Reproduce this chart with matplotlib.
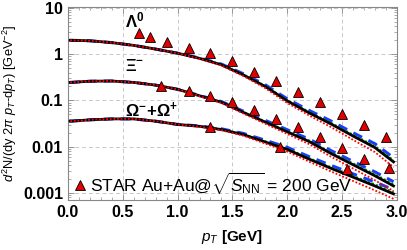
import numpy as np
import matplotlib
matplotlib.use("Agg")
import matplotlib.pyplot as plt
from matplotlib.ticker import FixedLocator, FixedFormatter, MultipleLocator, LogLocator, NullFormatter

plt.rcParams['font.family'] = ['Liberation Sans', 'DejaVu Sans']
plt.rcParams['mathtext.fontset'] = 'custom'
plt.rcParams['mathtext.rm'] = 'Liberation Sans'
plt.rcParams['mathtext.it'] = 'Liberation Sans:italic'
plt.rcParams['mathtext.bf'] = 'Liberation Sans:bold'

# model curves, pT grid
pt = [0.02, 0.2, 0.4, 0.6, 0.8, 1.0, 1.2, 1.4, 1.6, 1.8, 2.0, 2.2, 2.4, 2.6, 2.8, 2.97]

lam_black = [2.0, 1.95, 1.78, 1.55, 1.29, 1.05, 0.813, 0.589, 0.355, 0.200, 0.0977, 0.0537, 0.0309, 0.0170, 0.00955, 0.00468]
lam_blue = [2.0, 1.95, 1.78, 1.55, 1.29, 1.05, 0.828, 0.610, 0.377, 0.218, 0.108, 0.0607, 0.0358, 0.0200, 0.01156, 0.00575]
lam_green = [2.0, 1.95, 1.78, 1.55, 1.29, 1.05, 0.820, 0.600, 0.364, 0.2065, 0.102, 0.0566, 0.0328, 0.0182, 0.01033, 0.0051]
lam_red = [2.0, 1.95, 1.78, 1.55, 1.29, 1.05, 0.798, 0.569, 0.337, 0.1845, 0.0881, 0.0472, 0.0264, 0.01403, 0.00762, 0.0036]

xi_black = [0.245, 0.260, 0.263, 0.245, 0.214, 0.174, 0.126, 0.0912, 0.0550, 0.0339, 0.0209, 0.0129, 0.00708, 0.00407, 0.00234, 0.00141]
xi_blue = [0.245, 0.260, 0.263, 0.245, 0.214, 0.174, 0.128, 0.0944, 0.0583, 0.0370, 0.0232, 0.01456, 0.0082, 0.0048, 0.00284, 0.00174]
xi_green = [0.245, 0.260, 0.263, 0.245, 0.214, 0.174, 0.127, 0.0929, 0.0564, 0.0351, 0.0218, 0.01358, 0.00752, 0.00437, 0.00254, 0.00154]
xi_red = [0.245, 0.260, 0.263, 0.245, 0.214, 0.174, 0.1236, 0.0881, 0.0521, 0.0313, 0.01884, 0.01132, 0.00605, 0.00337, 0.00187, 0.00109]

om_black = [0.0355, 0.038, 0.0398, 0.0398, 0.0355, 0.0302, 0.0275, 0.0234, 0.0182, 0.0126, 0.0087, 0.00537, 0.00339, 0.00219, 0.00141, 0.00095]
om_blue = [0.0355, 0.038, 0.0398, 0.0398, 0.0355, 0.0302, 0.0281, 0.0243, 0.0193, 0.01374, 0.00966, 0.00607, 0.00393, 0.00258, 0.00171, 0.00117]
om_green = [0.0355, 0.038, 0.0398, 0.0398, 0.0355, 0.0302, 0.0278, 0.0239, 0.01866, 0.01303, 0.0091, 0.00566, 0.0036, 0.00234, 0.00153, 0.00104]
om_red = [0.0355, 0.038, 0.0398, 0.0398, 0.0355, 0.0302, 0.0270, 0.0226, 0.01726, 0.01164, 0.00785, 0.00472, 0.0029, 0.00181, 0.00113, 0.00074]

# STAR data
star_lam_pt = [0.65, 0.75, 0.9, 1.1, 1.3, 1.5, 1.7, 1.9, 2.1, 2.3, 2.5, 2.7, 2.9]
star_lam = [2.87, 2.35, 1.80, 1.36, 1.06, 0.70, 0.41, 0.258, 0.153, 0.093, 0.051, 0.029, 0.0164]
star_xi_pt = [0.85, 1.1, 1.3, 1.5, 1.7, 1.9, 2.1, 2.3, 2.5, 2.7, 2.93]
star_xi = [0.203, 0.157, 0.127, 0.0925, 0.061, 0.0397, 0.0267, 0.0162, 0.0094, 0.0054, 0.00346]
star_om_pt = [1.3, 1.93, 2.55]
star_om = [0.0264, 0.00986, 0.0033]

fig = plt.figure(figsize=(4.07, 2.5), dpi=100)
ax = fig.add_axes([0.167, 0.2, 0.808, 0.772])

for blue, green, black, red in [(lam_blue, lam_green, lam_black, lam_red),
                                (xi_blue, xi_green, xi_black, xi_red),
                                (om_blue, om_green, om_black, om_red)]:
    ax.plot(pt, blue, color='#1a3cff', lw=2.2, dashes=(3.2, 2.3), zorder=2)
    ax.plot(pt, green, color='#009a00', lw=1.4, dashes=(1, 1.2), zorder=3)
    ax.plot(pt, black, color='black', lw=2.0, zorder=4)
    ax.plot(pt, red, color='red', lw=1.3, dashes=(1, 1), zorder=5)

mk = dict(ls='none', marker='^', ms=7.5, mfc='#e00000', mec='black', mew=0.6, zorder=6)
ax.plot(star_lam_pt, star_lam, label=r'STAR Au+Au@$\sqrt{S_{\rm NN}}$ = 200 GeV', **mk)
ax.plot(star_xi_pt, star_xi, **mk)
ax.plot(star_om_pt, star_om, **mk)

tf = dict(family=['Liberation Serif', 'DejaVu Serif'], fontweight='bold', fontsize=12)
ax.text(0.52, 5.0, r'$\mathbf{\Lambda^0}$', va='center', ha='left', **tf)
ax.text(0.52, 0.54, r'$\mathbf{\Xi^{-}}$', va='center', ha='left', **tf)
ax.text(0.52, 0.057, r'$\mathbf{\Omega^{-}\!+\!\Omega^{+}}$', va='center', ha='left', **tf)

ax.set_yscale('log')
ax.set_xlim(0, 3.0)
ax.set_ylim(7e-4, 10.5)

ax.yaxis.set_major_locator(FixedLocator([0.001, 0.01, 0.1, 1, 10]))
ax.yaxis.set_major_formatter(FixedFormatter(['0.001', '0.01', '0.1', '1', '10']))
ax.yaxis.set_minor_locator(LogLocator(base=10, subs=np.arange(2, 10)))
ax.yaxis.set_minor_formatter(NullFormatter())
ax.xaxis.set_major_locator(MultipleLocator(0.5))
ax.xaxis.set_minor_locator(MultipleLocator(0.1))
ax.xaxis.set_major_formatter(matplotlib.ticker.FormatStrFormatter('%.1f'))

ax.grid(True, which='major', ls=(0, (4, 3)), color='#c8c8c8', lw=0.7)
ax.tick_params(which='both', direction='in', top=True, right=True, color='#888888')
ax.tick_params(which='major', length=4, width=0.6, labelsize=11.5)
ax.tick_params(which='minor', length=2, width=0.5)
for lab in ax.get_xticklabels() + ax.get_yticklabels():
    lab.set_fontweight('bold')
for s in ax.spines.values():
    s.set_color('#888888')
    s.set_linewidth(0.8)

ax.set_xlabel(r'$\mathbf{\mathit{p}_{\mathit{T}}}$ [GeV]', fontsize=11, fontweight='bold', labelpad=6)
ax.set_ylabel(r'$d^2$N/(dy 2$\pi$ $p_T$-d$p_T$) [GeV$^{-2}$]', fontsize=9.3, labelpad=3)

ax.legend(loc='lower left', frameon=False, fontsize=12.5, handletextpad=0.1,
          borderaxespad=0.0, borderpad=0.25, handlelength=0.9, numpoints=1)

fig.savefig('out.png', dpi=100)
